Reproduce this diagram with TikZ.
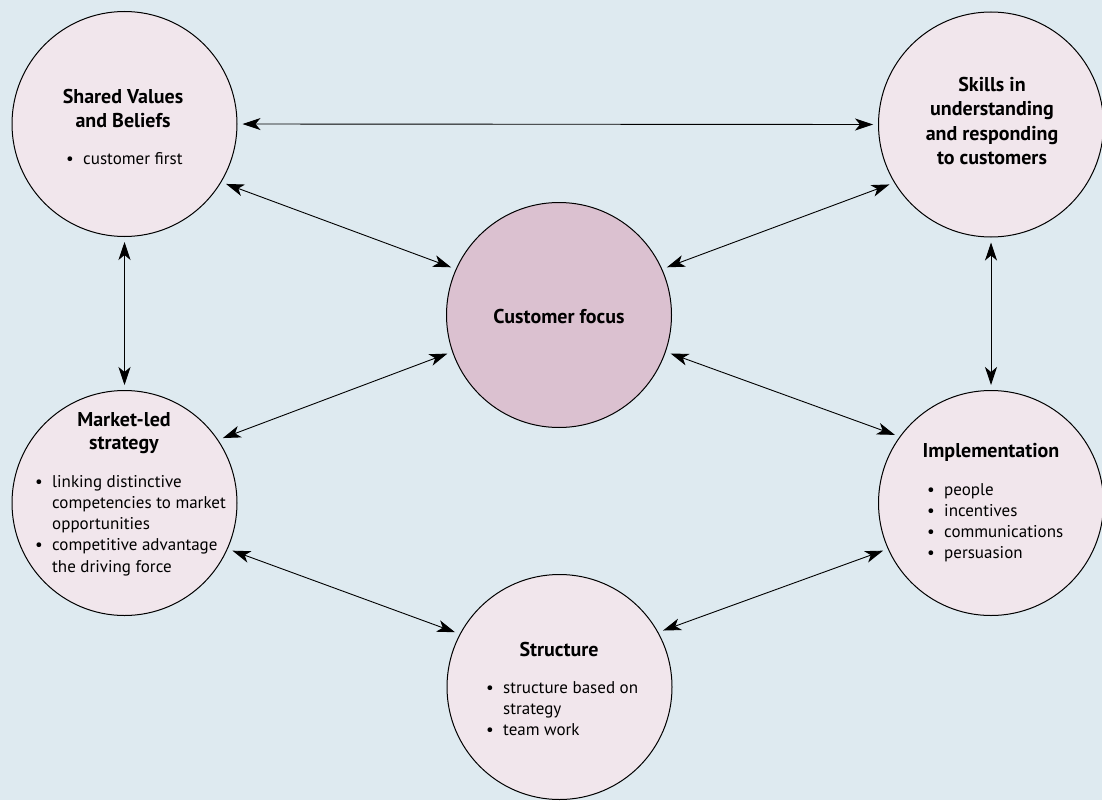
\documentclass[tikz,border=0pt]{standalone}
\usepackage{fontspec}
\setmainfont{PT Sans}
\usetikzlibrary{arrows.meta}
\definecolor{bgblue}{HTML}{DEEAF0}
\definecolor{pale}{HTML}{F1E6EC}
\definecolor{mauve}{HTML}{DBC1D0}
\tikzset{
  topic/.style={circle, draw=black, line width=1pt, fill=pale, minimum size=225pt, inner sep=0pt},
  hub/.style={topic, fill=mauve},
  ttl/.style={inner sep=0pt, font=\fontsize{20}{24.5}\selectfont\bfseries, anchor=base},
  pts/.style={inner sep=0pt, font=\fontsize{17}{21.3}\selectfont, anchor=base west},
  link/.style={line width=0.9pt, {Stealth[length=18pt,width=12pt,inset=5pt]}-{Stealth[length=18pt,width=12pt,inset=5pt]}, shorten >=5pt, shorten <=5pt}
}
\newcommand{\bl}{\makebox[17pt][l]{\textbullet}}
\begin{document}
\begin{tikzpicture}[x=1pt,y=-1pt]
\fill[bgblue] (0,0) rectangle (1102,800);
\useasboundingbox (0,0) rectangle (1102,800);

\node[topic] (sv) at (124.5,124) {};
\node[topic] (sk) at (991,124.5) {};
\node[hub]   (cf) at (559,315) {};
\node[topic] (ml) at (124.5,503) {};
\node[topic] (im) at (991,503) {};
\node[topic] (st) at (559.5,687) {};

% texts
\node[ttl] (svt) at (123,103) {\begin{tabular}[t]{@{}c@{}}Shared Values\\and Beliefs\end{tabular}};
\node[pts] (svp) at (66,164) {\begin{tabular}[t]{@{}l@{}}\bl customer first\end{tabular}};

\node[ttl] (skt) at (992,92) {\begin{tabular}[t]{@{}c@{}}Skills in\\[-0.5pt]understanding\\[-0.5pt]and responding\\[-0.5pt]to customers\end{tabular}};

\node[ttl] (cft) at (559,323) {Customer focus};

\node[ttl] (mlt) at (124,426) {\begin{tabular}[t]{@{}c@{}}Market-led\\[-1.5pt]strategy\end{tabular}};
\node[pts] (mlp) at (35,487) {\begin{tabular}[t]{@{}l@{}}\bl linking distinctive\\\phantom{\bl}competencies to market\\\phantom{\bl}opportunities\\\bl competitive advantage\\\phantom{\bl}the driving force\end{tabular}};

\node[ttl] (imt) at (991,457) {Implementation};
\node[pts] (imp) at (927,495) {\begin{tabular}[t]{@{}l@{}}\bl people\\\bl incentives\\\bl communications\\\bl persuasion\end{tabular}};

\node[ttl] (stt) at (559,656) {Structure};
\node[pts] (stp) at (486,693) {\begin{tabular}[t]{@{}l@{}}\bl structure based on\\\phantom{\bl}strategy\\\bl team work\end{tabular}};

% connectors
\draw[link] (sv.0) -- (sk.180);
\draw[link] (sv.-90) -- (ml.90);
\draw[link] (sk.-90) -- (im.90);
\draw[link] (sv.-31) -- (cf.156);
\draw[link] (sk.-149) -- (cf.24);
\draw[link] (cf.-161) -- (ml.34.5);
\draw[link] (cf.-19.4) -- (im.144);
\draw[link] (ml.-24.7) -- (st.152.7);
\draw[link] (im.-156.8) -- (st.29.1);
\end{tikzpicture}
\end{document}
